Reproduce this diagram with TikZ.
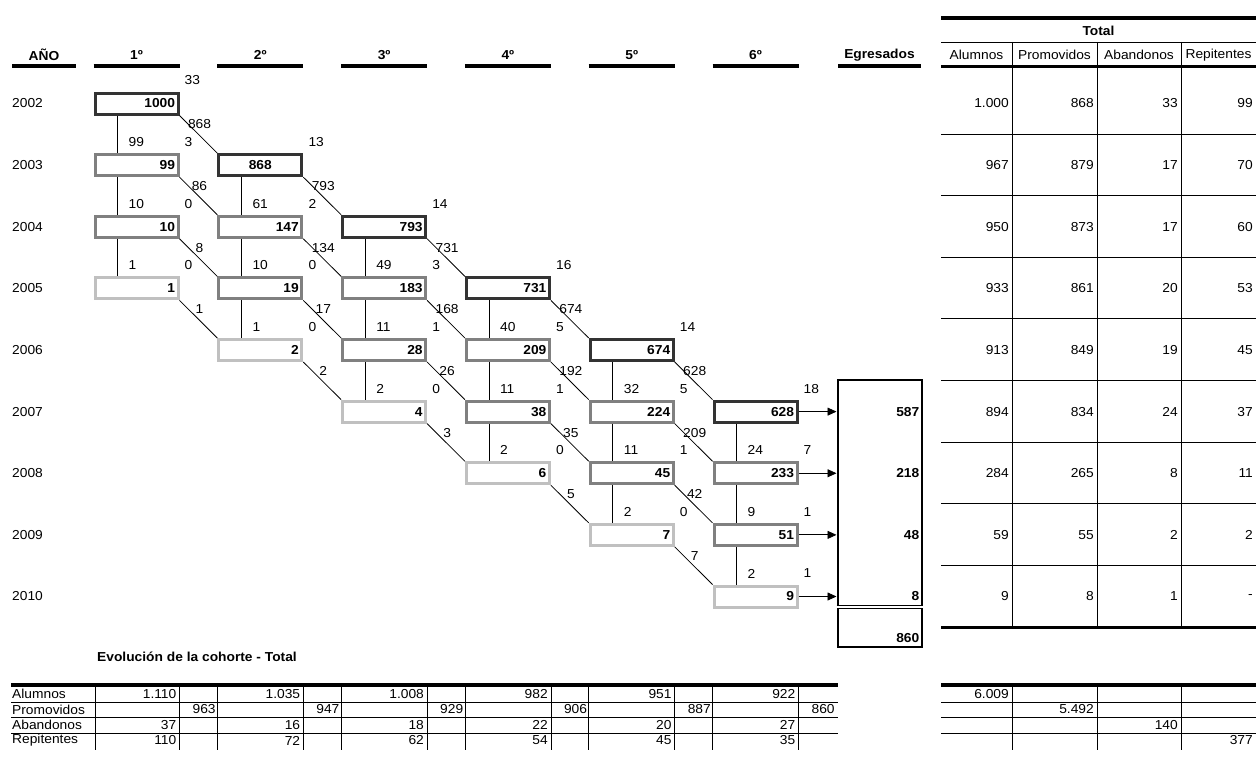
\documentclass[tikz,border=0pt]{standalone}
\usepackage{fontspec}
\setmainfont{Liberation Sans}[FakeStretch=1.06]
\usetikzlibrary{arrows.meta, positioning, calc}
\definecolor{cohdark}{RGB}{51,51,51}
\definecolor{cohmid}{RGB}{128,128,128}
\definecolor{cohlight}{RGB}{192,192,192}
\tikzset{
  txt/.style={inner sep=1pt, font=\fontsize{13}{15}\selectfont},
  num/.style={txt, anchor=east},
  lbl/.style={txt, anchor=west},
  hdr/.style={inner sep=1pt, font=\fontsize{13}{15}\selectfont\bfseries},
  cbox/.style={draw=#1, line width=3pt, minimum width=83pt, minimum height=21pt,
    inner xsep=3pt, inner ysep=0pt, text width=77pt, font=\fontsize{13}{15}\selectfont\bfseries},
  hbar/.style={line width=3.5pt},
  tabline/.style={line width=0.8pt},
  link/.style={line width=0.8pt},
}
\begin{document}
\begin{tikzpicture}[x=1pt, y=-1pt]
  \useasboundingbox (0,0) rectangle (1256,760);

  % Cohort boxes
  \foreach \c/\va/\vb/\vc/\vd/\al in {1/1000/99/10/1/right, 2/868/147/19/2/center, 3/793/183/28/4/right,
      4/731/209/38/6/right, 5/674/224/45/7/right, 6/628/233/51/9/right}{
    \foreach \k/\v/\col/\aln in {0/\va/cohdark/\al, 1/\vb/cohmid/right, 2/\vc/cohmid/right, 3/\vd/cohlight/right}{
      \node[cbox=\col, align=\aln] (b-\c-\k) at ({136.5+123.8*(\c-1)}, {103.5+61.625*(\c-1+\k)}) {\v};
    }
  }

  % Year labels
  \foreach \yr [count=\r from 0] in {2002,...,2010}
    \node[lbl] (yr-\r) at (11, {103.5+61.625*\r}) {\yr};

  % Header
  \draw[hbar] (12,66) -- (76,66);
  \node[hdr] (h-ano) at (44,55) {AÑO};
  \foreach \c in {1,...,6}{
    \draw[hbar] (b-\c-0.west |- 0,66) -- (b-\c-0.east |- 0,66);
    \node[hdr] (h-\c) at (b-\c-0.north |- 0,55) {{\c}º};
  }
  \draw[hbar] (838,66) -- (921,66);
  \node[hdr] (h-egr) at (879.5,55) {Egresados};

  % Promoted (diagonal) and repeaters (vertical)
  \foreach \c/\la/\lb/\lc/\ld in {1/868/86/8/1, 2/793/134/17/2, 3/731/168/26/3, 4/674/192/35/5, 5/628/209/42/7}{
    \pgfmathtruncatemacro\n{\c+1}
    \foreach \k/\v in {0/\la, 1/\lb, 2/\lc, 3/\ld}{
      \draw[link] (b-\c-\k.south east) -- (b-\n-\k.north west);
      \node[txt] (p-\c-\k) at ($(b-\c-\k.south east)+(20,9)$) {\v};
    }
  }
  \foreach \c/\la/\lb/\lc in {1/99/10/1, 2/61/10/1, 3/49/11/2, 4/40/11/2, 5/32/11/2, 6/24/9/2}{
    \foreach \k/\m/\v in {0/1/\la, 1/2/\lb, 2/3/\lc}{
      \draw[link] ($(b-\c-\k.south west)+(24,0)$) -- ($(b-\c-\m.north west)+(24,0)$);
      \node[lbl] (r-\c-\m) at ($(b-\c-\m.north west)+(34,-11)$) {\v};
    }
  }

  % Abandonos
  \foreach \c/\la/\lb/\lc/\ld in {1/33/3/0/0, 2/13/2/0/0, 3/14/3/1/0, 4/16/5/1/0, 5/14/5/1/0, 6/18/7/1/1}{
    \foreach \k/\v in {0/\la, 1/\lb, 2/\lc, 3/\ld}
      \node[lbl] (a-\c-\k) at ($(b-\c-\k.north east)+(4,-11)$) {\v};
  }

  % Egresados
  \node[draw, line width=2pt, minimum width=84pt, minimum height=267pt, inner sep=0pt] (egr) at (879.5,513.5) {};
  \draw[line width=1pt, double, double distance=1.5pt] (egr.west |- 0,607) -- (egr.east |- 0,607);
  \foreach \k/\v in {0/587, 1/218, 2/48, 3/8}{
    \draw[link, -{Triangle[length=9pt, width=8pt]}] (b-6-\k.east) -- (b-6-\k.east -| egr.west);
    \node[hdr, anchor=east] (e-\k) at ($(egr.east |- b-6-\k)+(-2,0)$) {\v};
  }
  \node[hdr, anchor=east] (e-tot) at ($(egr.south east)+(-2,-10)$) {860};

  % Total table
  \draw[hbar] (941,18) -- (1256,18);
  \node[hdr] (t-title) at (1098.5,31) {Total};
  \draw[tabline] (941,42) -- (1256,42);
  \foreach \x/\t [count=\i] in {976.5/Alumnos, 1054.5/Promovidos, 1139/Abandonos, 1218.5/Repitentes}
    \node[txt] (t-h\i) at (\x,55) {\t};
  \draw[hbar] (941,66.5) -- (1256,66.5);
  \foreach \x in {1012,1097,1181}
    \draw[tabline] (\x,42) -- (\x,627.5);
  \foreach \r in {0,...,7}
    \draw[tabline] (941,{134+61.625*\r}) -- (1256,{134+61.625*\r});
  \draw[hbar] (941,627.5) -- (1256,627.5);
  \foreach \al/\pr/\ab/\re [count=\r from 0] in {1.000/868/33/99, 967/879/17/70, 950/873/17/60, 933/861/20/53,
      913/849/19/45, 894/834/24/37, 284/265/8/11, 59/55/2/2, 9/8/1/-}{
    \node[num] (t-\r-1) at (1010, {103.5+61.625*\r}) {\al};
    \node[num] (t-\r-2) at (1095, {103.5+61.625*\r}) {\pr};
    \node[num] (t-\r-3) at (1179, {103.5+61.625*\r}) {\ab};
    \node[num] (t-\r-4) at (1254, {103.5+61.625*\r}) {\re};
  }

  % Evolucion de la cohorte
  \node[hdr, anchor=west] (evo) at (96,657) {Evolución de la cohorte - Total};
  \draw[hbar] (11,685) -- (838,685);
  \draw[hbar] (941,685) -- (1256,685);
  \foreach \y in {702,717.5,733}{
    \draw[tabline] (11,\y) -- (838,\y);
    \draw[tabline] (941,\y) -- (1256,\y);
  }
  \draw[tabline] (95,686.5) -- (95,750);
  \foreach \c in {1,...,6}
    \draw[tabline] (b-\c-0.east |- 0,686.5) -- (b-\c-0.east |- 0,750);
  \foreach \c in {2,...,6}
    \draw[tabline] (b-\c-0.west |- 0,686.5) -- (b-\c-0.west |- 0,750);
  \foreach \x in {1012,1097,1181}
    \draw[tabline] (\x,686.5) -- (\x,750);
  \foreach \t [count=\i from 0] in {Alumnos, Promovidos, Abandonos, Repitentes}
    \node[lbl] (ev-\i) at (11, {694+15.5*\i}) {\t};
  \foreach \c/\al/\pr/\ab/\re in {1/1.110/963/37/110, 2/1.035/947/16/72, 3/1.008/929/18/62,
      4/982/906/22/54, 5/951/887/20/45, 6/922/860/27/35}{
    \node[num] (ev-\c-1) at ($(b-\c-0.east |- 0,694)+(-2,0)$) {\al};
    \node[num] (ev-\c-2) at ({95+123.8*\c-2}, 709.5) {\pr};
    \node[num] (ev-\c-3) at ($(b-\c-0.east |- 0,725)+(-2,0)$) {\ab};
    \node[num] (ev-\c-4) at ($(b-\c-0.east |- 0,740.5)+(-2,0)$) {\re};
  }
  \node[num] (evt-1) at (1010,694) {6.009};
  \node[num] (evt-2) at (1095,709.5) {5.492};
  \node[num] (evt-3) at (1179,725) {140};
  \node[num] (evt-4) at (1254,740.5) {377};
\end{tikzpicture}
\end{document}
